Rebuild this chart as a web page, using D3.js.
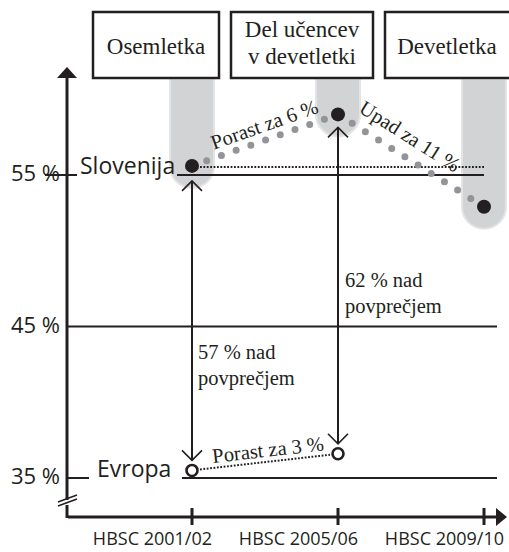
<!DOCTYPE html>
<html>
<head>
<meta charset="utf-8">
<script src="https://cdn.jsdelivr.net/npm/d3@7"></script>
<style>
  body { margin: 0; background: #fff; }
  .sans { font-family: "Open Sans", "Noto Sans", sans-serif; }
  .serif { font-family: "Liberation Serif", "DejaVu Serif", serif; }
</style>
</head>
<body>
<svg id="chart" width="509" height="552"></svg>
<script>
// data
const periods = ["HBSC 2001/02", "HBSC 2005/06", "HBSC 2009/10"];
const sloValues = [55.6, 59.0, 52.9];
const euValues = [35.5, 36.6];
const yTicks = [35, 45, 55];
const seriesNames = ["Slovenija", "Evropa"];
const schoolLabels = [["Osemletka"], ["Del učencev", "v devetletki"], ["Devetletka"]];
const sloChanges = ["Porast za 6 %", "Upad za 11 %"];
const euChange = "Porast za 3 %";
const gapLabels = [["57 % nad", "povprečjem"], ["62 % nad", "povprečjem"]];

const ink = "#231f20";
const svg = d3.select("#chart");

const x = d3.scalePoint().domain(periods).range([192, 484]);
const y = d3.scaleLinear().domain([35, 55]).range([478, 175]);

const slo = sloValues.map((v, i) => [x(periods[i]), y(v)]);
const eu = euValues.map((v, i) => [x(periods[i]), y(v)]);

// gray bars hanging from the boxes down to the Slovenian points
const barW = 44, r = barW / 2;
svg.append("g").selectAll("path")
  .data(slo)
  .join("path")
  .attr("d", d => {
    const x0 = d[0] - r, x1 = d[0] + r, top = 79, bot = d[1] + 22;
    return `M${x0},${top} V${bot - r} A${r},${r} 0 0 0 ${x1},${bot - r} V${top} Z`;
  })
  .attr("fill", "#d2d3d5")
  .attr("stroke", "#e3e4e5")
  .attr("stroke-width", 2);

// boxes on top
const boxes = [
  { left: x(periods[0]) - 99, w: 126 },
  { left: x(periods[1]) - 107, w: 142 },
  { left: x(periods[2]) - 99, w: 140 }
];
const bg = svg.append("g");
boxes.forEach((b, i) => {
  bg.append("rect")
    .attr("x", b.left).attr("y", 12)
    .attr("width", b.w).attr("height", 66)
    .attr("fill", "#fff").attr("stroke", ink).attr("stroke-width", 2.5);
  const lines = schoolLabels[i];
  const cx = i === 2 ? b.left + 62 : b.left + b.w / 2;
  lines.forEach((t, j) => {
    bg.append("text")
      .attr("class", "serif")
      .attr("x", cx)
      .attr("y", lines.length === 1 ? 54 : 37 + j * 27)
      .attr("text-anchor", "middle")
      .attr("font-size", 23)
      .attr("fill", ink)
      .text(t);
  });
});

// horizontal reference lines
const grid = svg.append("g").attr("stroke", ink).attr("stroke-width", 2);
grid.append("line").attr("x1", 45).attr("x2", 77).attr("y1", y(55)).attr("y2", y(55));
grid.append("line").attr("x1", 177).attr("x2", 484).attr("y1", y(55)).attr("y2", y(55));
grid.append("line").attr("x1", 67).attr("x2", 497).attr("y1", y(45)).attr("y2", y(45));
grid.append("line").attr("x1", 67).attr("x2", 89).attr("y1", y(35)).attr("y2", y(35));
grid.append("line").attr("x1", 182).attr("x2", 497).attr("y1", y(35)).attr("y2", y(35));

// y labels
svg.append("g").selectAll("text")
  .data(yTicks)
  .join("text")
  .attr("class", "sans")
  .attr("x", 60)
  .attr("y", d => y(d) + 6)
  .attr("text-anchor", "end")
  .attr("font-size", 22)
  .attr("fill", ink)
  .text(d => d + " %");

// axes
const ax = svg.append("g");
ax.append("line").attr("x1", 67).attr("x2", 67).attr("y1", 76).attr("y2", 500)
  .attr("stroke", ink).attr("stroke-width", 3);
ax.append("line").attr("x1", 67).attr("x2", 67).attr("y1", 505).attr("y2", 518)
  .attr("stroke", ink).attr("stroke-width", 3);
ax.append("path").attr("d", "M57,78 L67,67 L77,78 Z").attr("fill", ink);
ax.append("line").attr("x1", 58).attr("y1", 502).attr("x2", 77).attr("y2", 495)
  .attr("stroke", ink).attr("stroke-width", 1.5);
ax.append("line").attr("x1", 58).attr("y1", 506).attr("x2", 77).attr("y2", 499)
  .attr("stroke", ink).attr("stroke-width", 1.5);
ax.append("line").attr("x1", 68).attr("x2", 498).attr("y1", 517).attr("y2", 517)
  .attr("stroke", ink).attr("stroke-width", 3);
ax.append("path").attr("d", "M496,508 L507,517 L496,526 Z").attr("fill", ink);
ax.selectAll("line.tick")
  .data(periods)
  .join("line")
  .attr("class", "tick")
  .attr("x1", d => x(d)).attr("x2", d => x(d))
  .attr("y1", 508).attr("y2", 525)
  .attr("stroke", ink).attr("stroke-width", 3);
ax.selectAll("text")
  .data(periods)
  .join("text")
  .attr("class", "sans")
  .attr("x", d => x(d) + 20)
  .attr("y", 545)
  .attr("text-anchor", "end")
  .attr("font-size", 18)
  .attr("fill", ink)
  .text(d => d);

// series names
svg.append("text").attr("class", "sans")
  .attr("x", 80).attr("y", y(55) - 1).attr("font-size", 23).attr("fill", ink)
  .text(seriesNames[0]);
svg.append("text").attr("class", "sans")
  .attr("x", 97).attr("y", y(35) - 1).attr("font-size", 23).attr("fill", ink)
  .text(seriesNames[1]);

// fine dotted lines
svg.append("line")
  .attr("x1", slo[0][0] + 8).attr("x2", 485)
  .attr("y1", slo[0][1] + 1).attr("y2", slo[0][1] + 1)
  .attr("stroke", ink).attr("stroke-width", 2)
  .attr("stroke-dasharray", "1.8 1.6");
svg.append("path")
  .attr("d", d3.line()([[eu[0][0] + 8, eu[0][1] - 1], [eu[1][0] - 8, eu[1][1] + 1]]))
  .attr("stroke", ink).attr("stroke-width", 2).attr("fill", "none")
  .attr("stroke-dasharray", "1.8 1.6");

// gray dotted trend for Slovenia
svg.append("path")
  .attr("d", d3.line()(slo))
  .attr("fill", "none")
  .attr("stroke", "#929497")
  .attr("stroke-width", 7)
  .attr("stroke-linecap", "round")
  .attr("stroke-dasharray", "0 15.6");

// double arrows between Slovenia and Europe
const arrows = svg.append("g").attr("stroke", ink).attr("fill", "none");
eu.forEach((e, i) => {
  const s = slo[i];
  const top = s[1] + (i === 0 ? 15 : 13), bot = e[1] - 10;
  arrows.append("line").attr("x1", s[0]).attr("x2", s[0]).attr("y1", top).attr("y2", bot)
    .attr("stroke-width", 2);
  arrows.append("path").attr("d", `M${s[0] - 10},${top + 10} L${s[0]},${top} L${s[0] + 10},${top + 10}`)
    .attr("stroke-width", 1.6);
  arrows.append("path").attr("d", `M${s[0] - 10},${bot - 10} L${s[0]},${bot} L${s[0] + 10},${bot - 10}`)
    .attr("stroke-width", 1.6);
});

// points
svg.append("g").selectAll("circle")
  .data(slo)
  .join("circle")
  .attr("cx", d => d[0]).attr("cy", d => d[1]).attr("r", 7)
  .attr("fill", ink);
svg.append("g").selectAll("circle")
  .data(eu)
  .join("circle")
  .attr("cx", d => d[0]).attr("cy", d => d[1]).attr("r", 5.5)
  .attr("fill", "#fff").attr("stroke", ink).attr("stroke-width", 2.6);

// labels along the segments
function slopeLabel(a, b, t, off, txt) {
  const px = a[0] + (b[0] - a[0]) * t, py = a[1] + (b[1] - a[1]) * t;
  const ang = Math.atan2(b[1] - a[1], b[0] - a[0]) * 180 / Math.PI;
  svg.append("text")
    .attr("class", "serif")
    .attr("transform", `translate(${px},${py}) rotate(${ang})`)
    .attr("y", -off)
    .attr("text-anchor", "middle")
    .attr("font-size", 20.5)
    .attr("fill", ink)
    .text(txt);
}
slopeLabel(slo[0], slo[1], 0.53, 8, sloChanges[0]);
slopeLabel(slo[1], slo[2], 0.42, 13, sloChanges[1]);
slopeLabel(eu[0], eu[1], 0.53, 5, euChange);

// gap annotations
const gapPos = [[198, 359], [345, 287]];
gapLabels.forEach((lines, i) => {
  lines.forEach((t, j) => {
    svg.append("text")
      .attr("class", "serif")
      .attr("x", gapPos[i][0])
      .attr("y", gapPos[i][1] + j * 25.5)
      .attr("font-size", 20.5)
      .attr("fill", ink)
      .text(t);
  });
});
</script>
</body>
</html>
